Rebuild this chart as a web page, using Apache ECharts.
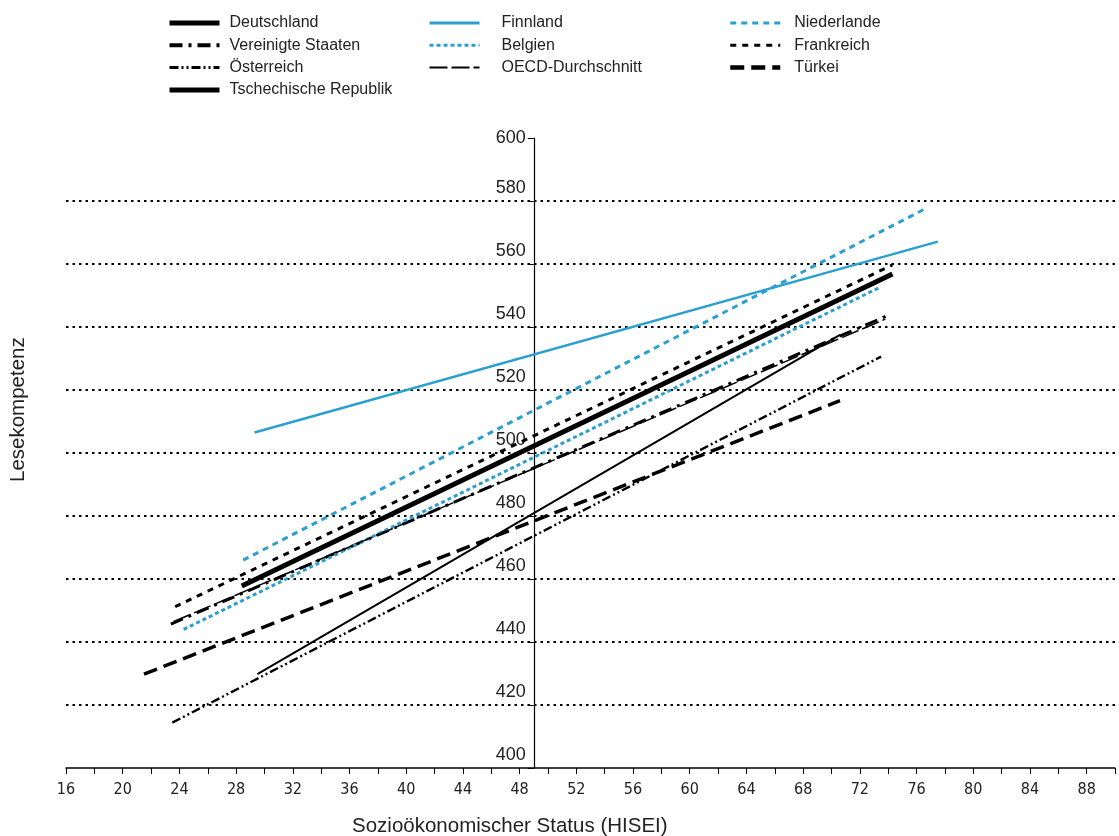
<!DOCTYPE html>
<html><head><meta charset="utf-8">
<script src="https://cdn.jsdelivr.net/npm/echarts@6/dist/echarts.min.js"></script>
<style>html,body{margin:0;padding:0;background:#fff}#c{width:1119px;height:836px}</style>
</head><body><div id="c"></div>
<script>
// ---- data ----
const countries = ['Deutschland','Vereinigte Staaten','Österreich','Tschechische Republik','Finnland','Belgien','OECD-Durchschnitt','Niederlande','Frankreich','Türkei'];
const xStart = [28.4, 23.4, 23.5, 29.5, 29.3, 24.3, 23.6, 28.5, 23.7, 21.5];
const yStart = [457.8, 445.7, 414.4, 429.8, 506.5, 444.0, 446.5, 466.0, 451.2, 429.8];
const xEnd   = [74.3, 74.2, 73.5, 70.6, 77.5, 73.5, 73.8, 76.6, 74.3, 70.6];
const yEnd   = [556.8, 544.1, 530.6, 537.5, 567.1, 552.8, 542.5, 577.5, 559.7, 516.6];
const xTickValues = [16,20,24,28,32,36,40,44,48,52,56,60,64,68,72,76,80,84,88];
const yTickValues = [400,420,440,460,480,500,520,540,560,580,600];
const yGridValues = [420,440,460,480,500,520,540,560,580];
const yAxisCrossAt = 49;

// ---- styles ----
const BLUE = '#2a9fd0';
const styles = {
  'Deutschland':           {color:'#000', width:5,   type:'solid'},
  'Vereinigte Staaten':    {color:'#000', width:3,   type:[13,6,3,6], legendWidth:4},
  'Österreich':            {color:'#000', width:2.4, type:[9,3,2,3,2,3], legendWidth:3},
  'Tschechische Republik': {color:'#000', width:2,   type:'solid', legendWidth:5},
  'Finnland':              {color:BLUE,   width:2.5, type:'solid', legendWidth:3},
  'Belgien':               {color:BLUE,   width:3,   type:[4,3]},
  'OECD-Durchschnitt':     {color:'#000', width:1.5, type:[18,4], legendWidth:2},
  'Niederlande':           {color:BLUE,   width:3,   type:[6,5]},
  'Frankreich':            {color:'#000', width:3,   type:[6,6]},
  'Türkei':                {color:'#000', width:3.5, type:[14,7], legendWidth:4.5}
};

const GRID_LEFT = 66, GRID_WIDTH = 1049, XMIN = 16, XMAX = 90;
const axisPx = GRID_WIDTH * (yAxisCrossAt - XMIN) / (XMAX - XMIN);

const series = countries.map((name, i) => ({
  name, type:'line', symbol:'none', showSymbol:false, silent:true, animation:false,
  data:[[xStart[i], yStart[i]], [xEnd[i], yEnd[i]]],
  lineStyle:{color:styles[name].color, width:styles[name].width, type:styles[name].type, cap:'butt'},
  itemStyle:{color:styles[name].color},
  z: 3 + i
}));
series.push({
  name:'__grid', type:'line', data:[], silent:true, animation:false, z:1,
  markLine:{symbol:'none', silent:true, label:{show:false}, animation:false,
    lineStyle:{color:'#000', type:[2.5,4], width:2},
    data: yGridValues.map(v => ({yAxis:v}))}
});

function legendData(names){
  return names.map(n => {
    const s = styles[n];
    return {name:n, itemStyle:{opacity:0, color:'rgba(0,0,0,0)', borderWidth:0},
      lineStyle:{color:s.color, width:s.legendWidth || Math.max(s.width,2.5), type:s.type, opacity:1}};
  });
}
function legendCommon(pad){
  return {orient:'vertical', top:10, itemWidth:50, itemHeight:14, itemGap:6.3, selectedMode:false,
    textStyle:{fontFamily:'Liberation Sans, Arial, sans-serif', fontSize:16, color:'#222', padding:[0,0,0,pad]}};
}

const chart = echarts.init(document.getElementById('c'), null, {renderer:'canvas'});
chart.setOption({
  backgroundColor:'#fff',
  animation:false,
  legend:[
    Object.assign(legendCommon(5), {left:162, data:legendData(countries.slice(0,4))}),
    Object.assign(legendCommon(17), {left:423, data:legendData(countries.slice(4,7))}),
    Object.assign(legendCommon(9), {left:723, data:legendData(countries.slice(7,10))})
  ],
  grid:{left:GRID_LEFT, width:GRID_WIDTH, top:138, height:630, containLabel:false},
  xAxis:{type:'value', min:XMIN, max:XMAX, interval:2,
    axisLine:{show:true, onZero:false, lineStyle:{color:'#000', width:1.5}},
    axisTick:{show:true, length:6, lineStyle:{color:'#000', width:1}},
    splitLine:{show:false},
    axisLabel:{margin:14, fontFamily:'DejaVu Sans Condensed, Liberation Sans Narrow, sans-serif', fontSize:16, color:'#222',
      formatter: v => xTickValues.includes(v) ? String(v) : ''}
  },
  yAxis:{type:'value', min:400, max:600, interval:20, offset:-axisPx,
    axisLine:{show:true, onZero:false, lineStyle:{color:'#000', width:1.2}},
    axisTick:{show:true, length:6, lineStyle:{color:'#000'}},
    splitLine:{show:false},
    axisLabel:{margin:8, color:'#222',
      formatter: v => yTickValues.includes(v) ? (v === 600 ? '{t|' + v + '}' : '{n|' + v + '}') : '',
      rich:{
        t:{fontFamily:'Liberation Sans, Arial, sans-serif', fontSize:18, color:'#222'},
        n:{fontFamily:'Liberation Sans, Arial, sans-serif', fontSize:18, color:'#222', padding:[0,0,25,0]}
      }}
  },
  graphic:[
    {type:'text', left:352, top:816, style:{text:'Sozioökonomischer Status (HISEI)', fontFamily:'Liberation Sans, Arial, sans-serif', fontSize:20.5, fill:'#222'}},
    {type:'text', x:8, y:482, rotation:Math.PI/2, style:{text:'Lesekompetenz', fontFamily:'Liberation Sans, Arial, sans-serif', fontSize:20.5, fill:'#222'}}
  ],
  series
});
</script></body></html>
